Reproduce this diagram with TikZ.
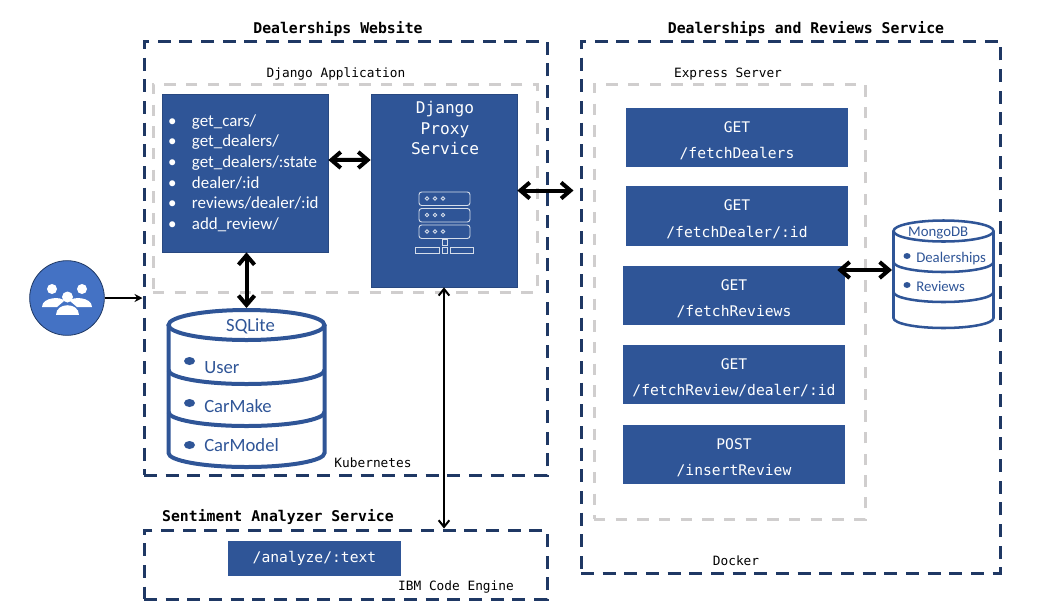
\documentclass[tikz,border=0pt]{standalone}
\usepackage{fontspec}
\setsansfont{Carlito}
\setmonofont{DejaVu Sans Mono}
\usetikzlibrary{shapes.geometric}
\usetikzlibrary{arrows.meta}
\definecolor{boxblue}{HTML}{2F5597}
\definecolor{userblue}{HTML}{4472C4}
\definecolor{framenavy}{HTML}{1F3864}
\definecolor{framegrey}{HTML}{D0CECE}
\tikzset{boxsize/.style 2 args={minimum width=#1*0.75pt,minimum height=#2*0.75pt},
navyframe/.style={draw=framenavy,line width=2.25pt,dash pattern=on 9.75pt off 6.5pt,inner sep=0},
greyframe/.style={draw=framegrey,line width=2.25pt,dash pattern=on 8.5pt off 7.75pt,inner sep=0},
bluebox/.style={fill=boxblue,text=white,inner sep=0,font=\ttfamily\fontsize{11}{20}\selectfont,align=center},
title/.style={font=\ttfamily\bfseries\fontsize{11.1}{13}\selectfont},
caption/.style={font=\ttfamily\fontsize{9.6}{12}\selectfont},
dbline/.style={draw=boxblue,line width=3pt},
dbtext/.style={text=boxblue,inner sep=0,font=\sffamily\fontsize{14}{16}\selectfont},
smalltext/.style={text=boxblue,inner sep=0,font=\sffamily\fontsize{11.1}{13}\selectfont},
bigarrow/.style={line width=3pt,{Straight Barb[length=7pt,width=12pt]}-{Straight Barb[length=7pt,width=12pt]}},
thinarrow/.style={line width=1.5pt,{Straight Barb[length=5pt,width=8pt]}-{Straight Barb[length=5pt,width=8pt]}},
icon/.style={draw=white!80!boxblue,line width=0.7pt}}

\begin{document}
\begin{tikzpicture}[x=0.75pt,y=-0.75pt]
\useasboundingbox (0,0) rectangle (1053,615);
% frames
\node (webframe) at (345.5,258) [navyframe,boxsize={403}{434}] {};
\node (appframe) at (345,188) [greyframe,boxsize={384}{208}] {};
\node (dealerframe) at (790.5,307) [navyframe,boxsize={419}{532}] {};
\node (expressframe) at (729.5,301.5) [greyframe,boxsize={271}{435}] {};
\node (analyzeframe) at (345.5,564.5) [navyframe,boxsize={403}{69}] {};
% titles
\node (webtitle) at (338,29) [title] {Dealerships Website};
\node (dealertitle) at (806,29) [title] {Dealerships and Reviews Service};
\node (analyzetitle) at (278,517) [title] {Sentiment Analyzer Service};
\node (appcaption) at (336,74) [caption] {Django Application};
\node (expresscaption) at (728,74) [caption] {Express Server};
\node (k8scaption) at (373,462.5) [caption] {Kubernetes};
\node (dockercaption) at (736,560.5) [caption] {Docker};
\node (enginecaption) at (456,587.5) [caption] {IBM Code Engine};
% django boxes
\node (listbox) at (245,173) [fill=boxblue,draw=boxblue!85!black,line width=0.5pt,text=white,boxsize={166}{158},inner sep=0,align=left,
  text width=124.5pt,font=\sffamily\fontsize{12.7}{15.5}\selectfont] {%
\hspace*{4.5pt}\makebox[18pt][l]{•}get\_cars/\\
\hspace*{4.5pt}\makebox[18pt][l]{•}get\_dealers/\\
\hspace*{4.5pt}\makebox[18pt][l]{•}get\_dealers/:state\\
\hspace*{4.5pt}\makebox[18pt][l]{•}dealer/:id\\
\hspace*{4.5pt}\makebox[18pt][l]{•}reviews/dealer/:id\\
\hspace*{4.5pt}\makebox[18pt][l]{•}add\_review/};
\node (proxybox) at (444,190.5) [fill=boxblue,draw=boxblue!85!black,line width=0.5pt,boxsize={146}{193}] {};
\node (proxylabel) at (445,128) [text=white,align=center,inner sep=0,font=\ttfamily\fontsize{12.1}{15.6}\selectfont] {Django\\Proxy\\Service};
% server icon
\foreach \y in {192,208.5,225} {
\draw [icon,rounded corners=2pt] (419,\y) rectangle (470,\y+13.5);
\foreach \x in {427,435,443}
	\draw [icon] (\x,\y+6.5) circle (1.7);
}
\draw [icon] (442,239) rectangle (447,245);
\draw [icon] (415.5,247.5) rectangle (439.5,253);
\draw [icon] (442,247.5) rectangle (447,253);
\draw [icon] (450,247.5) rectangle (473.5,253);
% express routes
\foreach \n/\xc/\yc/\boxht/\method/\route in {1/737/137.5/59/GET/{/fetchDealers},2/737/216/60/GET/{/fetchDealer/:id},3/734/295.5/59/GET/{/fetchReviews},4/734/374.5/59/GET/{/fetchReview/dealer/:id},5/734/454.5/59/POST/{/insertReview}} {
\node (route\n) at (\xc,\yc) [bluebox,boxsize={222}{\boxht}] {\rule{0pt}{13pt}\method\\\route};
}
\node (analyzebox) at (314.5,558.5) [bluebox,boxsize={173}{35}] {/analyze/:text};
% sqlite
\draw [dbline] (168.5,325) -- (168.5,453) arc[start angle=180,end angle=0,x radius=78,y radius=14] -- (324.5,325);
\foreach \y in {370,412}
	\draw [dbline] (168.5,\y) arc[start angle=180,end angle=0,x radius=78,y radius=14];
\node (sqlite) at (246.5,325) [ellipse,dbline,fill=white,boxsize={156}{30},inner sep=0,text=boxblue,font=\sffamily\fontsize{14}{16}\selectfont] {\hspace*{6pt}\raisebox{-5.2pt}[0pt][0pt]{SQLite}};
\foreach \n/\yb/\yt/\tbl in {1/361/368/User,2/403/406/CarMake,3/445/445/CarModel} {
\fill [boxblue] (189.5,\yb) ellipse (5.5 and 4);
\node (sqlitetbl\n) at (204,\yt) [dbtext,anchor=west] {\tbl};
}
% mongodb
\draw [dbline,line width=1.9pt] (893.5,231) -- (893.5,318) arc[start angle=180,end angle=0,x radius=50,y radius=10] -- (993.5,231);
\foreach \y in {262,292}
	\draw [dbline,line width=1.9pt] (893.5,\y) arc[start angle=180,end angle=0,x radius=50,y radius=10];
\node (mongo) at (943.5,231) [ellipse,dbline,line width=1.9pt,fill=white,boxsize={100}{21},inner sep=0,smalltext] {\raisebox{-4.2pt}[0pt][0pt]{MongoDB}\hspace*{8pt}};
\foreach \n/\yb/\yt/\tbl in {1/256/259/Dealerships,2/285/286.5/Reviews} {
\fill [boxblue] (907,\yb) ellipse (3.5 and 3);
\node (mongotbl\n) at (916,\yt) [smalltext,anchor=west] {\tbl};
}
% users
\node (users) at (67,298) [circle,draw=framenavy,fill=userblue,line width=0.6pt,inner sep=0,minimum size=56pt] {};
\fill [white] (52,289) circle (5);
\fill [white] (82,289) circle (5);
\fill [white] (42,307) .. controls (42,297) and (62,296) .. (64,301) -- (57,307) -- cycle;
\fill [white] (92,307) .. controls (92,297) and (72,296) .. (70,301) -- (77,307) -- cycle;
\fill [white] (67.5,297) circle (5.5);
\fill [white] (56,315) .. controls (56,302) and (79,302) .. (79,315) -- cycle;
% connectors
\coordinate (mongoport) at (892,270);
\draw [-{Stealth[length=6pt,width=6pt]},line width=1.1pt] (users.east) -- (webframe.west |- users.east);
\draw [bigarrow] ([yshift=9.75pt]listbox.east) -- ([yshift=22.9pt]proxybox.west);
\draw [bigarrow,shorten >=4.5pt] (proxybox.east) -- (proxybox.east -| dealerframe.west);
\draw [bigarrow] (sqlite.north |- listbox.south) -- (sqlite.north);
\draw [bigarrow,shorten <=-6pt] (mongoport -| route3.east) -- (mongoport);
\draw [thinarrow] (proxybox.south) -- (proxybox.south |- analyzeframe.north);
\end{tikzpicture}
\end{document}
